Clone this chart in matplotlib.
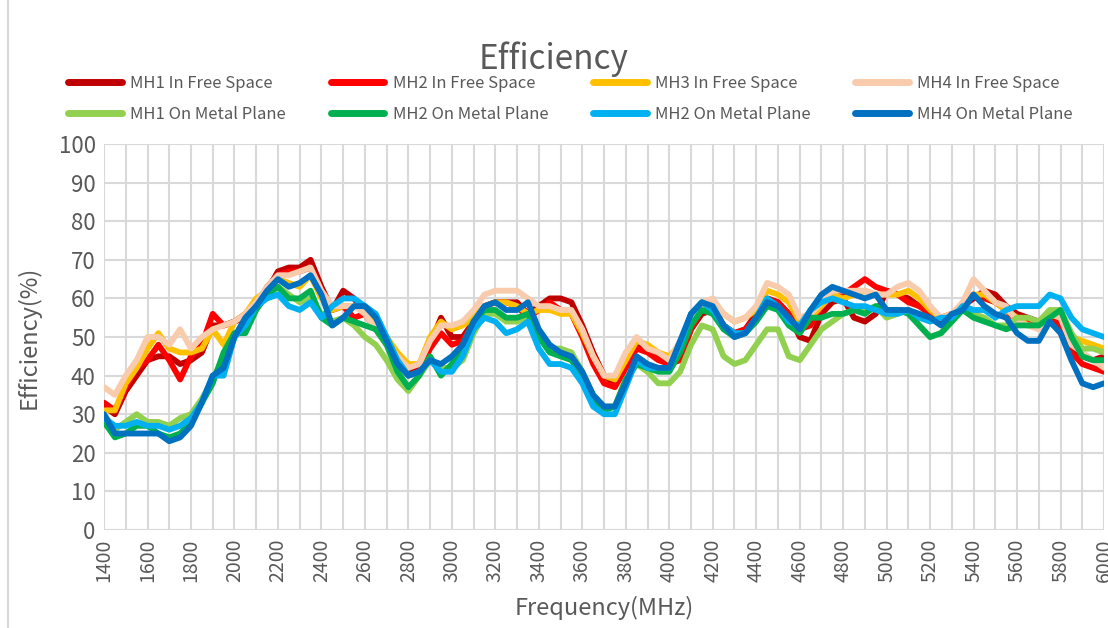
import numpy as np
import matplotlib
matplotlib.use('Agg')
import matplotlib.pyplot as plt
from matplotlib.lines import Line2D

plt.rcParams['font.family'] = ['Noto Sans CJK SC', 'DejaVu Sans']
plt.rcParams['font.weight'] = 'light'

# frequency points (MHz), one every 50 MHz
freq = list(range(1400, 6001, 50))

# efficiency (%)
mh1_free = [32, 30, 36, 40, 44, 45, 45, 43, 44, 46, 53, 53, 54, 55, 58, 62, 67, 68, 68, 70,
            63, 57, 62, 60, 56, 52, 48, 44, 41, 42, 48, 55, 50, 50, 54, 58, 59, 59, 59, 56,
            58, 60, 60, 59, 53, 46, 40, 38, 43, 48, 47, 45, 44, 45, 52, 56, 57, 53, 51, 52,
            56, 60, 59, 56, 50, 49, 56, 59, 60, 55, 54, 56, 62, 61, 60, 58, 57, 54, 55, 58,
            60, 62, 61, 58, 56, 55, 54, 56, 54, 48, 45, 44, 45]
mh2_free = [33, 31, 37, 42, 44, 48, 44, 39, 45, 48, 56, 53, 54, 56, 58, 63, 66, 67, 67, 68,
            62, 57, 58, 55, 56, 53, 48, 44, 40, 41, 47, 51, 48, 49, 54, 58, 59, 59, 58, 55,
            57, 59, 57, 56, 50, 43, 38, 37, 42, 47, 46, 44, 43, 44, 52, 57, 58, 53, 51, 52,
            55, 60, 59, 56, 52, 53, 58, 61, 61, 63, 65, 63, 62, 61, 59, 58, 56, 55, 56, 58,
            61, 60, 59, 57, 54, 54, 53, 56, 53, 46, 43, 42, 41]
mh3_free = [31, 31, 38, 42, 47, 51, 47, 46, 46, 47, 52, 48, 54, 56, 60, 62, 65, 64, 63, 66,
            60, 57, 58, 58, 57, 54, 50, 46, 43, 43, 50, 54, 52, 53, 55, 58, 59, 59, 58, 56,
            57, 57, 56, 56, 51, 45, 40, 39, 44, 49, 48, 46, 45, 48, 54, 58, 59, 56, 54, 55,
            57, 62, 61, 59, 54, 55, 58, 61, 60, 61, 62, 61, 61, 61, 62, 60, 57, 55, 56, 58,
            61, 61, 59, 57, 55, 53, 53, 56, 55, 50, 49, 48, 47]
mh4_free = [37, 35, 40, 44, 50, 50, 48, 52, 47, 50, 52, 53, 54, 56, 59, 63, 66, 66, 67, 68,
            62, 58, 58, 58, 56, 52, 48, 45, 42, 43, 49, 53, 53, 54, 57, 61, 62, 62, 62, 60,
            58, 58, 57, 57, 52, 45, 40, 40, 46, 50, 47, 46, 44, 49, 54, 59, 60, 56, 54, 55,
            58, 64, 63, 61, 55, 56, 59, 62, 62, 62, 62, 61, 61, 63, 64, 62, 58, 55, 56, 59,
            65, 62, 59, 58, 54, 53, 52, 56, 55, 48, 46, 44, 42]
mh1_metal = [30, 26, 28, 30, 28, 28, 27, 29, 30, 34, 39, 45, 51, 52, 58, 61, 63, 61, 59, 60,
             56, 54, 55, 53, 50, 48, 44, 39, 36, 40, 44, 42, 42, 44, 51, 56, 56, 54, 54, 55,
             51, 47, 47, 46, 41, 35, 32, 32, 39, 43, 41, 38, 38, 41, 48, 53, 52, 45, 43, 44,
             48, 52, 52, 45, 44, 48, 52, 54, 56, 57, 57, 58, 55, 56, 57, 53, 50, 51, 54, 58,
             56, 55, 53, 53, 55, 55, 54, 57, 57, 51, 47, 47, 46]
mh2_metal = [28, 24, 25, 27, 27, 25, 24, 25, 28, 33, 38, 46, 51, 51, 57, 61, 63, 60, 60, 62,
             55, 53, 55, 54, 53, 52, 48, 41, 37, 40, 45, 40, 43, 48, 54, 57, 57, 55, 55, 56,
             50, 46, 45, 44, 40, 34, 31, 32, 39, 43, 42, 41, 41, 46, 53, 57, 56, 52, 50, 51,
             54, 58, 57, 53, 51, 55, 55, 56, 56, 57, 56, 58, 57, 57, 56, 53, 50, 51, 54, 57,
             55, 54, 53, 52, 53, 53, 53, 55, 57, 50, 45, 44, 44]
mh2_metal_b = [29, 27, 27, 28, 27, 27, 26, 27, 29, 33, 40, 40, 50, 53, 58, 60, 61, 58, 57, 59,
               55, 58, 60, 60, 58, 56, 50, 44, 40, 41, 44, 41, 41, 45, 52, 55, 54, 51, 52, 54,
               47, 43, 43, 42, 38, 32, 30, 30, 37, 44, 42, 42, 42, 48, 56, 59, 57, 53, 51, 51,
               55, 60, 58, 54, 53, 57, 59, 60, 59, 58, 58, 57, 56, 56, 57, 55, 54, 55, 55, 58,
               57, 57, 55, 57, 58, 58, 58, 61, 60, 55, 52, 51, 50]
mh4_metal = [30, 25, 25, 25, 25, 25, 23, 24, 27, 33, 40, 42, 50, 55, 58, 62, 65, 63, 64, 66,
             61, 53, 55, 58, 58, 55, 49, 43, 40, 41, 44, 43, 45, 48, 54, 58, 59, 57, 57, 59,
             52, 48, 46, 45, 41, 35, 32, 32, 38, 45, 43, 42, 42, 49, 56, 59, 58, 53, 50, 51,
             55, 59, 58, 55, 52, 57, 61, 63, 62, 61, 60, 61, 57, 57, 57, 56, 55, 53, 56, 57,
             61, 58, 56, 55, 51, 49, 49, 54, 51, 44, 38, 37, 38]

labels = ['MH1 In Free Space', 'MH2 In Free Space', 'MH3 In Free Space', 'MH4 In Free Space',
          'MH1 On Metal Plane', 'MH2 On Metal Plane', 'MH2 On Metal Plane', 'MH4 On Metal Plane']
colors = ['#c00000', '#ff0000', '#ffc000', '#f8cbad',
          '#92d050', '#00b050', '#00b0f0', '#0070c0']
series = [mh1_free, mh2_free, mh3_free, mh4_free,
          mh1_metal, mh2_metal, mh2_metal_b, mh4_metal]

fig = plt.figure(figsize=(11.08, 6.28), dpi=100)
ax = fig.add_axes([0.0939, 0.156, 0.9025, 0.6147])

lines = []
for vals, c, lab in zip(series, colors, labels):
    ln, = ax.plot(freq, vals, color=c, linewidth=4.2, label=lab,
                  solid_joinstyle='round', solid_capstyle='round')
    lines.append(ln)

ax.set_xlim(1400, 6000)
ax.set_ylim(0, 100)
ax.set_xticks(range(1400, 6001, 200))
ax.set_xticks(range(1400, 6001, 100), minor=True)
ax.set_yticks(range(0, 101, 10))
ax.grid(True, which='both', color='#d9d9d9', linewidth=1.5)
ax.set_axisbelow(True)
for s in ax.spines.values():
    s.set_visible(False)
ax.tick_params(which='both', length=0, colors='#595959')
ax.tick_params(axis='y', labelsize=16, pad=6)
ax.tick_params(axis='x', labelsize=14, pad=6, labelrotation=90)

ax.set_xlabel('Frequency(MHz)', fontsize=17, color='#595959', labelpad=10)
ax.set_ylabel('Efficiency(%)', fontsize=17, color='#595959', labelpad=13)

fig.text(0.5, 0.905, 'Efficiency', ha='center', va='center', fontsize=24, color='#595959')

# legend fills by column, so reorder to read row by row like the original
order = [0, 4, 1, 5, 2, 6, 3, 7]
leg = fig.legend([lines[i] for i in order], [labels[i] for i in order],
                 loc='center', bbox_to_anchor=(0.515, 0.842), ncol=4, frameon=False,
                 fontsize=12, handlelength=3.2, columnspacing=2.7, labelspacing=0.85,
                 handletextpad=0.5)
for t in leg.get_texts():
    t.set_color('#595959')
for h in leg.legend_handles:
    h.set_linewidth(5)

# chart area border on the left
fig.add_artist(Line2D([0.007, 0.007], [0, 1], color='#d9d9d9', linewidth=1.5,
                      transform=fig.transFigure))

fig.savefig('out.png', dpi=100)
